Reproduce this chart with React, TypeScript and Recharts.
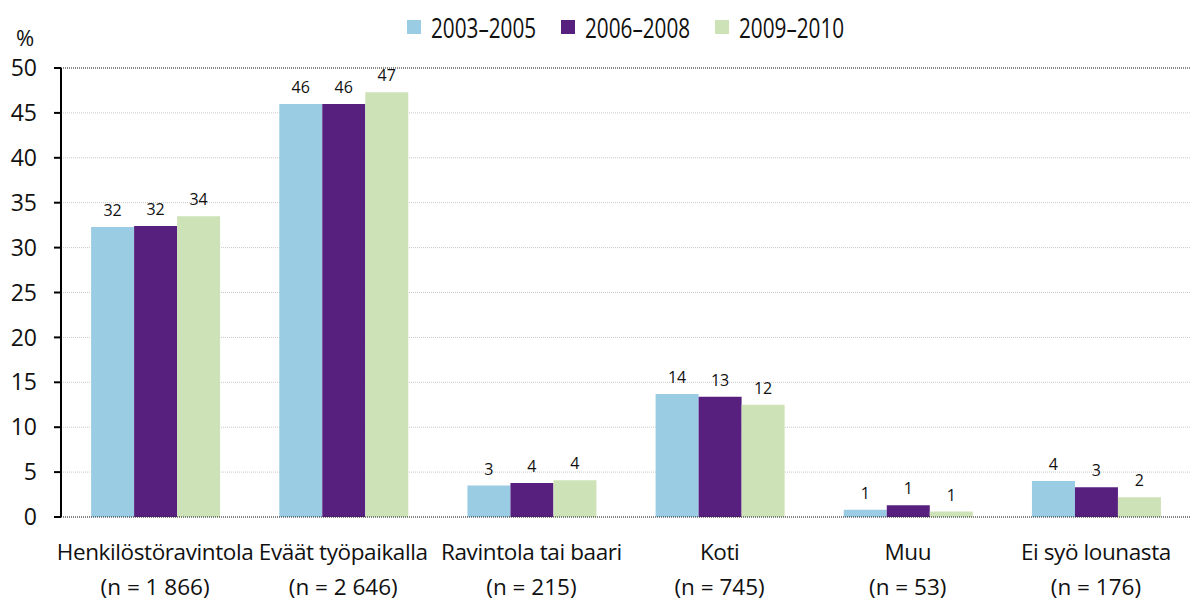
import React from "react";
import {
  Bar,
  BarChart,
  CartesianGrid,
  LabelList,
  ReferenceLine,
  XAxis,
  YAxis,
} from "recharts";

const categories = [
  "Henkilöstöravintola",
  "Eväät työpaikalla",
  "Ravintola tai baari",
  "Koti",
  "Muu",
  "Ei syö lounasta",
];
const counts = ["(n = 1 866)", "(n = 2 646)", "(n = 215)", "(n = 745)", "(n = 53)", "(n = 176)"];

const series = ["2003–2005", "2006–2008", "2009–2010"];
const colors = ["#9accE4", "#58207e", "#cde2b7"];

const values2003 = [32.3, 46.0, 3.5, 13.7, 0.8, 4.0];
const values2006 = [32.4, 46.0, 3.8, 13.4, 1.3, 3.3];
const values2009 = [33.5, 47.3, 4.1, 12.5, 0.6, 2.2];

const labels2003 = [32, 46, 3, 14, 1, 4];
const labels2006 = [32, 46, 4, 13, 1, 3];
const labels2009 = [34, 47, 4, 12, 1, 2];

const yTicks = [0, 5, 10, 15, 20, 25, 30, 35, 40, 45, 50];

const data = categories.map((name, i) => ({
  name,
  a: values2003[i],
  b: values2006[i],
  c: values2009[i],
  la: labels2003[i],
  lb: labels2006[i],
  lc: labels2009[i],
}));

const FONT = "'Open Sans', 'Noto Sans', sans-serif";

function CategoryTick({ x, y, payload, index }: any) {
  return (
    <g transform={`translate(${x},${y})`}>
      <text textAnchor="middle" fill="#111" fontSize={22.5} letterSpacing={-0.4} fontFamily={FONT} y={35}>
        {payload.value}
      </text>
      <text textAnchor="middle" fill="#111" fontSize={22.5} fontFamily={FONT} y={70}>
        {counts[index]}
      </text>
    </g>
  );
}

function ChartLegend() {
  return (
    <div
      style={{
        position: "absolute",
        left: 61,
        width: 1129,
        top: 8,
        display: "flex",
        justifyContent: "center",
        gap: 25,
        fontFamily: FONT,
      }}
    >
      {series.map((s, i) => (
        <div key={s} style={{ display: "flex", alignItems: "center", gap: 10 }}>
          <span style={{ width: 14, height: 14, background: colors[i], display: "inline-block" }} />
          <span
            style={{
              fontSize: 28,
              lineHeight: "38px",
              color: "#111",
              display: "inline-block",
              width: 105,
              whiteSpace: "nowrap",
            }}
          >
            <span style={{ display: "inline-block", transform: "scaleX(0.74)", transformOrigin: "left center" }}>
              {s}
            </span>
          </span>
        </div>
      ))}
    </div>
  );
}

export default function App() {
  const keys = ["a", "b", "c"];
  const labelKeys = ["la", "lb", "lc"];
  return (
    <div style={{ position: "absolute", left: 0, top: 0, width: 1194, height: 601, background: "#fff" }}>
      <div style={{ position: "absolute", left: 16, top: 22, fontSize: 22, lineHeight: "30px", fontFamily: FONT, color: "#111" }}>%</div>
      <ChartLegend />
      <BarChart
        width={1194}
        height={601}
        data={data}
        margin={{ top: 68, right: 4, left: 0, bottom: 0 }}
        barCategoryGap="16%"
        barGap={0}
      >
        <CartesianGrid vertical={false} stroke="#c8c8c8" strokeDasharray="1 1" />
        <XAxis
          dataKey="name"
          interval={0}
          tickLine={false}
          axisLine={{ stroke: "#222", strokeDasharray: "1 1" }}
          height={84}
          tick={<CategoryTick />}
        />
        <YAxis
          domain={[0, 50]}
          ticks={yTicks}
          width={61}
          tickSize={7}
          tickMargin={17}
          axisLine={{ stroke: "#000", strokeWidth: 2 }}
          tickLine={{ stroke: "#000", strokeWidth: 2 }}
          tick={{ fill: "#111", fontSize: 23, fontFamily: FONT }}
        />
        <ReferenceLine y={50} stroke="#333" strokeDasharray="1 1" />
        {keys.map((k, i) => (
          <Bar key={k} dataKey={k} name={series[i]} fill={colors[i]} isAnimationActive={false}>
            <LabelList
              dataKey={labelKeys[i]}
              position="top"
              offset={11}
              fill="#111"
              fontSize={16}
              fontFamily={FONT}
            />
          </Bar>
        ))}
      </BarChart>
    </div>
  );
}
